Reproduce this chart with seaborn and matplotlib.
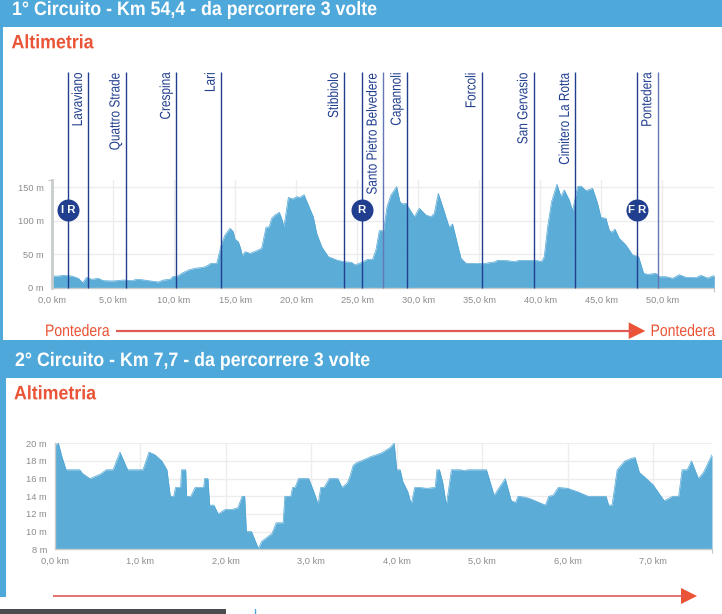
"""
Altimetria dei due circuiti, ridisegnata con seaborn.
"""
import matplotlib
matplotlib.use("Agg")
import matplotlib.pyplot as plt
from matplotlib.patches import Polygon, Rectangle
from matplotlib.patheffects import AbstractPathEffect
from matplotlib.transforms import Affine2D
import pandas as pd
import seaborn as sns

# 1° circuito
km_1 = [0.0, 0.52, 0.93, 1.61, 2.16, 2.51, 2.84, 3.25, 3.79, 4.2, 5.02, 5.84, 6.52, 6.93, 7.34, 7.89,
        8.71, 9.12, 9.66, 9.94, 10.21, 10.62, 11.17, 11.71, 12.39, 12.67, 13.0, 13.49, 13.62, 13.9,
        14.17, 14.58, 14.85, 14.99, 15.26, 15.45, 15.59, 15.81, 16.22, 16.76, 17.17, 17.53, 17.8,
        17.99, 18.26, 18.62, 18.81, 19.0, 19.36, 19.71, 20.04, 20.31, 20.64, 20.99, 21.4, 21.68,
        22.09, 22.63, 23.31, 23.86, 24.54, 24.82, 25.31, 25.85, 26.26, 26.53, 26.81, 27.16, 27.44,
        27.76, 28.23, 28.5, 28.72, 28.99, 29.68, 30.09, 30.63, 31.04, 31.31, 31.64, 32.0, 32.54,
        32.81, 33.5, 33.91, 34.32, 35.27, 36.23, 36.5, 37.32, 37.87, 38.28, 39.77, 40.1, 40.32,
        40.6, 40.92, 41.36, 41.69, 41.96, 42.37, 42.64, 43.05, 43.33, 43.74, 44.28, 44.69, 44.96,
        45.37, 45.64, 45.86, 46.11, 46.46, 47.01, 47.56, 48.05, 48.46, 48.79, 49.47, 49.74, 50.29,
        50.83, 51.38, 51.93, 52.74, 53.15, 53.7, 54.25]
quota_1 = [17.4, 17.4, 18.4, 17.4, 14, 7.5, 15.4, 12.5, 14, 10.5, 10, 11.5, 10.5, 12.5, 12, 10.5,
           8.5, 11.5, 12.5, 17, 16.4, 21.4, 26.4, 29, 30.4, 32.4, 36.4, 36.4, 46.3, 66.3,
           78.7, 88.7, 83.7, 72.2, 68.8, 58.8, 47.8, 53.8, 51.3, 55.3, 58.8, 90.2, 91.2,
           103.6, 108.6, 112.6, 103.6, 91.2, 135, 132.5, 136, 135, 139, 123.6, 106.1, 81.2,
           61.3, 46.3, 41.4, 38.9, 37.9, 33.9, 37.4, 42.4, 42.4, 56.3, 85.2, 85.2, 121,
           138.5, 151, 128.5, 125, 126, 106, 118.6, 108.6, 106, 111, 141, 121, 90.2,
           95.2, 43.8, 36.4, 36.4, 35.9, 38.4, 40.9, 40.4, 38.9, 40.9, 40.4, 38.9, 46.3,
           91.2, 128.5, 154.5, 136, 146, 131, 115, 151, 152, 145, 148.5, 126, 105,
           103.6, 86.2, 82.7, 87.7, 73.7, 63.8, 48.8, 46.3, 21.4, 19.9, 21.4, 16.4, 16.4,
           14, 19.4, 15.4, 15, 18.4, 14.4, 18.4]
linee_km_1 = [1.33, 2.97, 6.04, 10.18, 13.84, 23.94, 25.37, 27.1, 29.07, 35.2, 39.45, 42.86, 47.89, 49.6]
localita_km = [2.97, 6.04, 10.18, 13.84, 23.94, 27.1, 29.07, 35.2, 39.45, 42.86, 49.6]
localita = ["Lavaviano", "Quattro Strade", "Crespina", "Lari", "Stibbiolo", "Santo Pietro Belvedere",
            "Capannoli", "Forcoli", "San Gervasio", "Cimitero La Rotta", "Pontedera"]
sprint_km = [1.33, 25.37, 47.89]
sprint_nomi = ["I R", "R", "F R"]
xticks_1 = [0, 5, 10, 15, 20, 25, 30, 35, 40, 45, 50]
xlabels_1 = ["0,0 km", "5,0 km", "10,0 km", "15,0 km", "20,0 km", "25,0 km", "30,0 km", "35,0 km",
             "40,0 km", "45,0 km", "50,0 km"]
yticks_1 = [0, 50, 100, 150]
ylabels_1 = ["0 m", "50 m", "100 m", "150 m"]

# 2° circuito
km_2 = [0.0, 0.04, 0.08, 0.13, 0.29, 0.32, 0.41, 0.53, 0.6, 0.68, 0.76, 0.85, 1.03, 1.1, 1.17, 1.25,
        1.31, 1.35, 1.39, 1.41, 1.47, 1.48, 1.53, 1.54, 1.59, 1.64, 1.74, 1.75, 1.79, 1.81, 1.86,
        1.91, 1.99, 2.07, 2.14, 2.19, 2.22, 2.24, 2.3, 2.38, 2.42, 2.54, 2.59, 2.67, 2.69, 2.76,
        2.78, 2.81, 2.85, 2.97, 3.03, 3.08, 3.11, 3.15, 3.21, 3.31, 3.36, 3.42, 3.45, 3.49, 3.53,
        3.58, 3.7, 3.82, 3.92, 3.97, 3.995, 4.0, 4.04, 4.07, 4.13, 4.17, 4.21, 4.27, 4.35, 4.45,
        4.47, 4.5, 4.54, 4.58, 4.64, 4.75, 4.79, 4.83, 5.05, 5.14, 5.2, 5.27, 5.34, 5.39, 5.42,
        5.5, 5.57, 5.74, 5.78, 5.83, 5.89, 6.0, 6.12, 6.24, 6.45, 6.48, 6.52, 6.58, 6.67, 6.75,
        6.79, 6.84, 6.9, 7.0, 7.13, 7.19, 7.23, 7.3, 7.34, 7.4, 7.45, 7.53, 7.59, 7.69]
quota_2 = [19.8, 20, 18.5, 17, 17, 16.6, 16, 16.5, 17, 17, 19, 17, 17, 19, 18.7, 18,
           17, 14, 14, 15, 15, 17, 17, 14, 14, 15, 15, 16, 16, 13, 13,
           12, 12.5, 12.5, 12.7, 14, 14, 10, 10, 8.1, 8.9, 9.8, 11, 11, 14, 14,
           15, 15, 16, 16, 14.5, 13.1, 15, 15, 16, 16, 15, 15.5, 16.2, 17.5, 17.8,
           18, 18.5, 18.9, 19.5, 20, 17.5, 17, 17, 15.7, 14.5, 13.1, 15, 15, 14.9, 15,
           17, 17, 15.5, 13, 17, 17, 16.9, 17, 17, 14.1, 15, 16, 13.5, 13.3, 14,
           13.9, 13.7, 13, 14, 14.1, 15, 14.9, 14.5, 14, 14, 13, 13, 17, 18, 18.3,
           18.4, 16.7, 16.2, 15.3, 13.5, 13.8, 14, 14, 17, 17, 18, 16, 16.7, 18.7]
xticks_2 = [0, 1, 2, 3, 4, 5, 6, 7]
xlabels_2 = ["0,0 km", "1,0 km", "2,0 km", "3,0 km", "4,0 km", "5,0 km", "6,0 km", "7,0 km"]
yticks_2 = [8, 10, 12, 14, 16, 18, 20]
ylabels_2 = ["8 m", "10 m", "12 m", "14 m", "16 m", "18 m", "20 m"]

titolo_1 = "1° Circuito - Km 54,4 - da percorrere 3 volte"
titolo_2 = "2° Circuito - Km 7,7 - da percorrere 3 volte"

AZZURRO = "#4fa8da"
RIEMPI = "#4fa6d5"
ROSSO = "#ea5335"
BLU = "#223f8f"
BLU_CHIARO = "#6478b5"
GRIGIO = "#8c8c8c"
W, H = 722, 614

sns.set_theme(style="whitegrid")
plt.rcParams["font.family"] = ["Liberation Sans", "DejaVu Sans"]


class Stretto(AbstractPathEffect):
    """Comprime il testo lungo la riga: non c'e' un font narrow installato."""

    def __init__(self, sx, dalla_fine=False):
        super().__init__()
        self.sx = sx
        self.dalla_fine = dalla_fine

    def draw_path(self, renderer, gc, tpath, affine, rgbFace=None):
        fermo = tpath.get_extents().x1 if self.dalla_fine else 0
        pre = Affine2D().translate(-fermo, 0).scale(self.sx, 1).translate(fermo, 0)
        renderer.draw_path(gc, tpath, pre + affine, rgbFace)


fig = plt.figure(figsize=(W / 100, H / 100), dpi=100, facecolor="white")

# livello di sfondo in pixel: fasce, titoli, frecce
bg = fig.add_axes([0, 0, 1, 1], zorder=0)
bg.set_xlim(0, W)
bg.set_ylim(H, 0)
bg.axis("off")
bg.add_patch(Rectangle((0, 0), W, 27, color=AZZURRO, lw=0))
bg.add_patch(Rectangle((0, 27), 3, 313, color=AZZURRO, lw=0))
bg.add_patch(Rectangle((0, 340), W, 38, color=AZZURRO, lw=0))
bg.add_patch(Rectangle((0, 378), 6, 219, color=AZZURRO, lw=0))
bg.add_patch(Rectangle((0, 609), 226, 5, color="#4a4d50", lw=0))
bg.plot([255, 255], [609, 614], color=AZZURRO, lw=1)

stretto_b = [Stretto(0.915)]
bg.text(12, 15, titolo_1, color="white", fontsize=14, fontweight="bold", va="baseline", path_effects=stretto_b)
bg.text(15, 366, titolo_2, color="white", fontsize=14, fontweight="bold", va="baseline", path_effects=stretto_b)
bg.text(11.5, 48.3, "Altimetria", color=ROSSO, fontsize=14, fontweight="bold", va="baseline", path_effects=stretto_b)
bg.text(14, 399.3, "Altimetria", color=ROSSO, fontsize=14, fontweight="bold", va="baseline", path_effects=stretto_b)

bg.text(45, 336, "Pontedera", color=ROSSO, fontsize=12, va="baseline", path_effects=[Stretto(0.84)])
bg.text(715.5, 336, "Pontedera", color=ROSSO, fontsize=12, va="baseline", ha="right",
        path_effects=[Stretto(0.84, dalla_fine=True)])
bg.plot([115.7, 632], [331, 331], color="#e05a5a", lw=1.6, solid_capstyle="butt")
bg.add_patch(Polygon([(628.7, 322.3), (628.7, 339), (645.3, 331)], color=ROSSO, lw=0))
bg.plot([53, 684], [595.7, 595.7], color="#e05a5a", lw=1.2, solid_capstyle="butt")
bg.add_patch(Polygon([(681, 588), (681, 604), (697, 596)], color=ROSSO, lw=0))


def pannello(box, km, quota, xticks, xlabels, yticks, ylabels, xlim, ylim):
    """Profilo altimetrico su assi posizionati in pixel."""
    x0, y_top, x1, y_bot = box
    ax = fig.add_axes([x0 / W, 1 - y_bot / H, (x1 - x0) / W, (y_bot - y_top) / H], zorder=2)
    ax.patch.set_alpha(0)
    df = pd.DataFrame({"km": km, "quota": quota})
    sns.lineplot(data=df, x="km", y="quota", ax=ax, color=RIEMPI, lw=0.5, errorbar=None)
    ax.fill_between(df["km"], df["quota"], ylim[0], color=RIEMPI, alpha=0.93, lw=0, zorder=1.5)
    ax.set_xlim(*xlim)
    ax.set_ylim(*ylim)
    ax.set_xlabel("")
    ax.set_ylabel("")
    ax.set_xticks(xticks)
    ax.set_xticklabels(xlabels)
    ax.set_yticks(yticks)
    ax.set_yticklabels(ylabels)
    # tacche solo agli estremi degli assi
    ax.set_xticks(list(xlim), minor=True)
    ax.set_yticks(list(ylim), minor=True)
    ax.tick_params(axis="both", which="major", labelsize=6.7, labelcolor=GRIGIO, length=0)
    ax.tick_params(axis="y", which="major", pad=5.8)
    ax.tick_params(axis="x", which="major", pad=5.6)
    ax.tick_params(axis="both", which="minor", length=3, width=0.8, color="#c4c4c4", left=True, bottom=True)
    ax.grid(True, which="major", color="#ededed", lw=1)
    ax.grid(False, which="minor")
    ax.set_axisbelow(True)
    for side in ["top", "right"]:
        ax.spines[side].set_visible(False)
    for side in ["left", "bottom"]:
        ax.spines[side].set_color("#c8cccc")
    return ax


# 1° circuito: 0 m a y=287.7 px, 12.21 px per km, 0.669 px per m
ax1 = pannello((52, 180.3, 714.3, 287.7), km_1, quota_1, xticks_1, xlabels_1, yticks_1, ylabels_1,
               (0, 54.25), (0, 160.5))
ax1.spines["left"].set_linewidth(2)
ax1.spines["bottom"].set_linewidth(1)
colori_linee = [BLU_CHIARO if k in (27.1, 49.6) else BLU for k in linee_km_1]
ax1.vlines(linee_km_1, 0, 322.4, colors=colori_linee, lw=1.0, clip_on=False, zorder=4)
for nome, pos in zip(localita, localita_km):
    ax1.annotate(nome, (pos, 322.4), xytext=(-7.4, 0), textcoords="offset points", rotation=90,
                 ha="center", va="top", color=BLU, fontsize=10.5, annotation_clip=False,
                 path_effects=[Stretto(0.81, dalla_fine=True)])
for nome, pos in zip(sprint_nomi, sprint_km):
    ax1.scatter([pos], [116.6], s=251, color=BLU, zorder=5, linewidths=0, clip_on=False)
    ax1.text(pos, 116.6, nome, color="white", fontsize=8.2, fontweight="bold", ha="center", va="center", zorder=6)

# 2° circuito: 8 m a y=549.3 px, 85.4 px per km, 8.83 px per m
ax2 = pannello((55, 443.3, 712, 549.3), km_2, quota_2, xticks_2, xlabels_2, yticks_2, ylabels_2,
               (0, 7.69), (8, 20))
ax2.spines["left"].set_linewidth(1)
ax2.spines["bottom"].set_linewidth(1)

fig.savefig("out.png", dpi=100)
